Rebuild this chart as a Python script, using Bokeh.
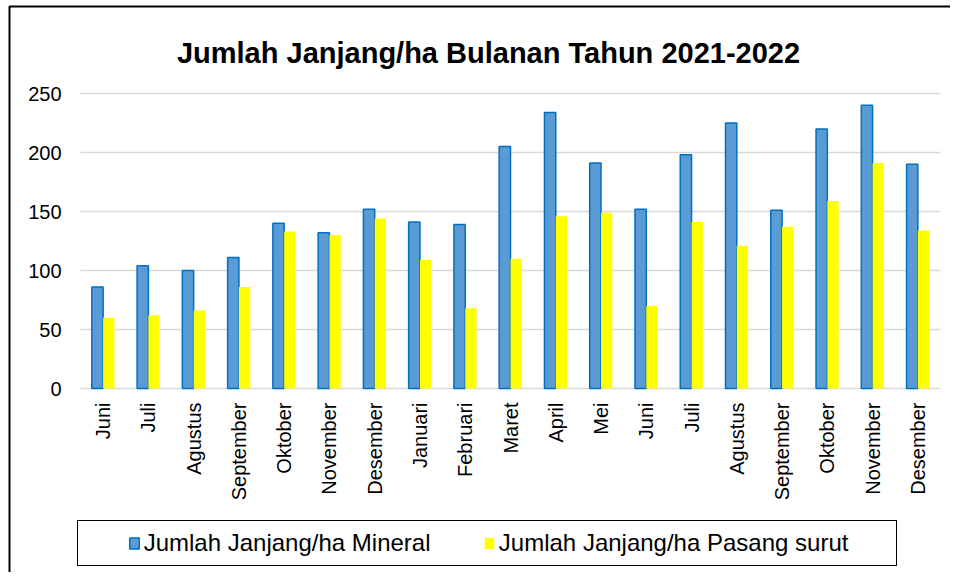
from bokeh.plotting import figure
from bokeh.models import ColumnDataSource, Legend, LegendItem, Range1d, Label, BoxAnnotation
from bokeh.core.properties import value
from bokeh.transform import dodge
from bokeh.embed import file_html
from bokeh.resources import INLINE
import math

months = ["Juni", "Juli", "Agustus", "September", "Oktober", "November", "Desember",
          "Januari", "Februari", "Maret", "April", "Mei", "Juni", "Juli", "Agustus",
          "September", "Oktober", "November", "Desember"]
mineral = [86, 104, 100, 111, 140, 132, 152, 141, 139, 205, 234, 191, 152, 198, 225, 151, 220, 240, 190]
pasang_surut = [60, 62, 66, 86, 133, 130, 144, 109, 68, 110, 146, 149, 70, 141, 121, 137, 159, 191, 134]
y_ticks = [0, 50, 100, 150, 200, 250]

n = len(months)
idx = list(range(n))
src = ColumnDataSource(dict(idx=idx, mineral=mineral, pasang=pasang_surut,
                            month=months, base=[0] * n))
grid_src = ColumnDataSource(dict(y=y_ticks, x0=[-0.5] * len(y_ticks), x1=[n - 0.5] * len(y_ticks),
                                 lab=[str(t) for t in y_ticks]))

FONT = "Liberation Sans"
NB = "\u00a0"

# layout (pixels): whole chart is one frame; value area 80..940 x 93..388
W, H = 950, 572
PLOT_L, PLOT_W, PLOT_T, PLOT_B = 80, 860, 93, 388
CAT_PX = PLOT_W / n
UNIT_PX = (PLOT_B - PLOT_T) / y_ticks[-1]
x_start = -0.5 - PLOT_L / CAT_PX
x_end = n - 0.5 + (W - PLOT_L - PLOT_W) / CAT_PX
y_end = y_ticks[-1] + PLOT_T / UNIT_PX
y_start = -(H - PLOT_B) / UNIT_PX


def px_x(px):
    return x_start + px / CAT_PX


def px_y(py):
    return y_end - py / UNIT_PX


p = figure(width=W, height=H, output_backend="svg", toolbar_location=None, title=None,
           frame_width=W, frame_height=H, min_border=0,
           x_range=Range1d(x_start, x_end), y_range=Range1d(y_start, y_end),
           x_axis_location=None, y_axis_location=None)
p.grid.visible = False
p.outline_line_color = None

# horizontal gridlines and value labels
p.segment(x0="x0", x1="x1", y0="y", y1="y", source=grid_src, line_color="#D9D9D9", line_width=1.5)
p.text(x="x0", y="y", text="lab", source=grid_src, x_offset=-19, text_align="right",
       text_baseline="middle", text_font=value(FONT), text_font_size="20px", text_color="black")

r1 = p.vbar(x=dodge("idx", -0.125, range=p.x_range), top="mineral", width=0.25, source=src,
            fill_color="#5B9BD5", line_color="#0070C0", line_width=1.5)
r2 = p.vbar(x=dodge("idx", 0.125, range=p.x_range), top="pasang", width=0.25, source=src,
            fill_color="#FFFF00", line_color=None)
spacer = p.vbar(x=[], top=[], width=0.25, fill_alpha=0, line_alpha=0)

# category labels under the zero line
p.text(x="idx", y="base", text="month", source=src, angle=math.pi / 2, y_offset=14,
       text_align="right", text_baseline="middle", text_font=value(FONT),
       text_font_size="20px", text_color="black")

title = Label(x=px_x(488), y=px_y(52.5), text="Jumlah Janjang/ha Bulanan Tahun 2021-2022",
              text_align="center", text_baseline="alphabetic", text_font=FONT,
              text_font_size="29px", text_font_style="bold", text_color="black")
p.add_layout(title)

border = BoxAnnotation(left=px_x(9), top=px_y(6), right=x_end + 2, bottom=y_start - 2,
                       fill_color=None, fill_alpha=0, line_color="black", line_alpha=1.0,
                       line_width=2)
p.add_layout(border)

legend = Legend(items=[LegendItem(label=NB, renderers=[spacer]),
                       LegendItem(label="Jumlah Janjang/ha Mineral" + NB * 5, renderers=[r1]),
                       LegendItem(label="Jumlah Janjang/ha Pasang surut" + NB * 6, renderers=[r2])],
                orientation="horizontal", location=(77, 6), padding=8, spacing=19, margin=0,
                glyph_width=12, glyph_height=14, label_standoff=4, label_width=0, label_height=27,
                label_text_font=FONT, label_text_font_size="24px", label_text_color="black",
                border_line_color="black", border_line_alpha=1.0, border_line_width=1.5,
                background_fill_alpha=0)
p.add_layout(legend, "center")

open("out.html", "w").write(file_html(p, INLINE))
